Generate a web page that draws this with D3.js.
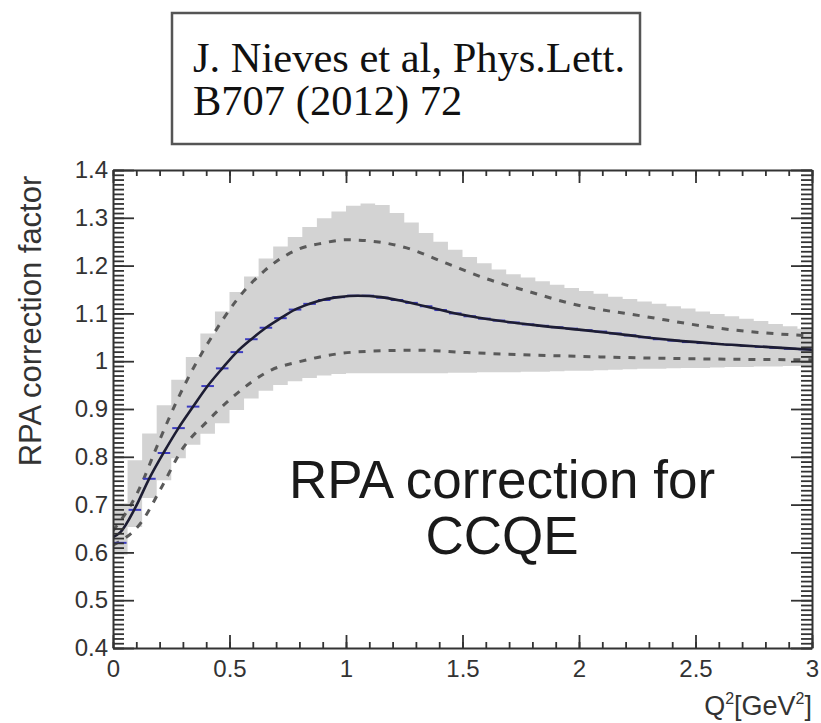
<!DOCTYPE html>
<html>
<head>
<meta charset="utf-8">
<script src="https://cdn.jsdelivr.net/npm/d3@7"></script>
<style>
  html, body { margin: 0; padding: 0; background: #fff; }
  svg { display: block; }
</style>
</head>
<body>
<div id="chart"></div>
<script>
// ---------------- data ----------------
const titleLines = ["J. Nieves et al, Phys.Lett.", "B707 (2012) 72"];
const noteLines = ["RPA correction for", "CCQE"];
const yTitle = "RPA correction factor";

const xDomain = [0, 3];
const yDomain = [0.4, 1.4];
const xTicks = [0, 0.5, 1, 1.5, 2, 2.5, 3];
const xTickLabels = ["0", "0.5", "1", "1.5", "2", "2.5", "3"];
const yTicks = [0.4, 0.5, 0.6, 0.7, 0.8, 0.9, 1.0, 1.1, 1.2, 1.3, 1.4];
const yTickLabels = ["0.4", "0.5", "0.6", "0.7", "0.8", "0.9", "1", "1.1", "1.2", "1.3", "1.4"];

const nBins = 48;
// grey uncertainty band (histogram, one value per bin)
const bandLower = [0.595, 0.653, 0.714, 0.751, 0.797, 0.825, 0.848, 0.87, 0.898, 0.922,
  0.938, 0.95, 0.958, 0.965, 0.97, 0.973, 0.975, 0.975, 0.975, 0.975,
  0.975, 0.975, 0.975, 0.976, 0.976, 0.977, 0.977, 0.977, 0.978, 0.978,
  0.979, 0.98, 0.98, 0.981, 0.982, 0.983, 0.984, 0.984, 0.985, 0.986,
  0.986, 0.987, 0.988, 0.988, 0.989, 0.989, 0.99, 0.99];
const bandUpper = [0.703, 0.793, 0.849, 0.908, 0.961, 1.009, 1.058, 1.104, 1.145, 1.177,
  1.215, 1.24, 1.26, 1.281, 1.299, 1.313, 1.325, 1.33, 1.327, 1.31,
  1.29, 1.268, 1.25, 1.233, 1.218, 1.205, 1.192, 1.182, 1.175, 1.167,
  1.16, 1.153, 1.147, 1.141, 1.135, 1.13, 1.125, 1.12, 1.115, 1.11,
  1.104, 1.099, 1.094, 1.089, 1.084, 1.078, 1.073, 1.068];
// blue central histogram (one value per bin)
const histCentral = [0.62, 0.689, 0.754, 0.808, 0.86, 0.905, 0.948, 0.985, 1.019, 1.046,
  1.07, 1.09, 1.108, 1.12, 1.128, 1.134, 1.137, 1.137, 1.133, 1.128,
  1.122, 1.115, 1.107, 1.10, 1.094, 1.089, 1.085, 1.081, 1.077, 1.074,
  1.071, 1.068, 1.065, 1.062, 1.058, 1.054, 1.05, 1.046, 1.043, 1.04,
  1.038, 1.036, 1.034, 1.032, 1.03, 1.028, 1.026, 1.025];

// solid central curve
const lineQ = [0, 0.031, 0.094, 0.156, 0.219, 0.281, 0.344, 0.406, 0.469, 0.531, 0.594, 0.656,
  0.719, 0.781, 0.844, 0.906, 0.969, 1.05, 1.15, 1.25, 1.4, 1.5, 1.65, 1.8, 2.0, 2.2, 2.4, 2.6, 2.8, 3.0];
const lineVal = [0.632, 0.642, 0.692, 0.755, 0.81, 0.86, 0.905, 0.948, 0.985, 1.019, 1.046, 1.07,
  1.09, 1.108, 1.12, 1.129, 1.134, 1.137, 1.134, 1.125, 1.108, 1.097, 1.085, 1.076, 1.066, 1.055, 1.044, 1.036, 1.03, 1.024];

// dashed upper curve
const upperQ = [0, 0.1, 0.2, 0.275, 0.35, 0.424, 0.531, 0.652, 0.8, 0.9, 1.0, 1.13, 1.26, 1.43, 1.6, 1.79, 1.97, 2.29, 2.6, 2.92, 3.0];
const upperVal = [0.645, 0.72, 0.835, 0.918, 0.99, 1.051, 1.128, 1.19, 1.235, 1.247, 1.254, 1.25, 1.237, 1.205, 1.173, 1.145, 1.12, 1.093, 1.069, 1.055, 1.053];

// dashed lower curve
const lowerQ = [0, 0.123, 0.209, 0.3, 0.4, 0.516, 0.681, 0.8, 0.99, 1.17, 1.3, 1.52, 1.8, 2.09, 2.5, 3.0];
const lowerVal = [0.615, 0.664, 0.737, 0.818, 0.872, 0.926, 0.982, 0.999, 1.017, 1.022, 1.023, 1.018, 1.013, 1.009, 1.005, 1.003];

// ---------------- layout ----------------
const W = 821, H = 723;
const plot = { left: 113, right: 812, top: 170, bottom: 648 };
const sans = "'Liberation Sans', Arial, Helvetica, sans-serif";
const serif = "'Liberation Serif', 'Times New Roman', Times, serif";
const axisColor = "#333";

const svg = d3.select("#chart").append("svg")
  .attr("width", W).attr("height", H)
  .attr("viewBox", `0 0 ${W} ${H}`);

const x = d3.scaleLinear().domain(xDomain).range([plot.left, plot.right]);
const y = d3.scaleLinear().domain(yDomain).range([plot.bottom, plot.top]);

svg.append("defs").append("clipPath").attr("id", "clip")
  .append("rect")
  .attr("x", plot.left).attr("y", plot.top)
  .attr("width", plot.right - plot.left).attr("height", plot.bottom - plot.top);

const g = svg.append("g").attr("clip-path", "url(#clip)");

// band
const binW = (xDomain[1] - xDomain[0]) / nBins;
const bandPts = [];
d3.range(nBins).forEach(i => {
  const lo = xDomain[0] + i * binW, hi = lo + binW;
  bandPts.push({ q: lo, l: bandLower[i], u: bandUpper[i] });
  bandPts.push({ q: hi, l: bandLower[i], u: bandUpper[i] });
});
g.append("path")
  .datum(bandPts)
  .attr("fill", "#d3d3d3")
  .attr("stroke", "none")
  .attr("d", d3.area().x(d => x(d.q)).y0(d => y(d.l)).y1(d => y(d.u)));

// dashed curves
const lineGen = d3.line().x(d => x(d[0])).y(d => y(d[1])).curve(d3.curveMonotoneX);
[[upperQ, upperVal], [lowerQ, lowerVal]].forEach(([qs, vs]) => {
  g.append("path")
    .datum(qs.map((q, i) => [q, vs[i]]))
    .attr("fill", "none")
    .attr("stroke", "#5a5a5a")
    .attr("stroke-width", 3)
    .attr("stroke-dasharray", "7,8")
    .attr("d", lineGen);
});

// blue histogram segments
g.append("g").selectAll("line")
  .data(histCentral)
  .join("line")
  .attr("x1", (d, i) => x(xDomain[0] + i * binW) + 1)
  .attr("x2", (d, i) => x(xDomain[0] + (i + 1) * binW) - 1)
  .attr("y1", d => y(d))
  .attr("y2", d => y(d))
  .attr("stroke", "#3c3cc0")
  .attr("stroke-width", 2);

// solid central line
g.append("path")
  .datum(lineQ.map((q, i) => [q, lineVal[i]]))
  .attr("fill", "none")
  .attr("stroke", "#1d1d33")
  .attr("stroke-width", 2.6)
  .attr("d", lineGen);

// ---------------- axes ----------------
const xMinor = d3.range(0, 3.0001, 0.1).map(v => +v.toFixed(2));
const yMinor = d3.range(0.4, 1.4001, 0.01).map(v => +v.toFixed(3));

function styleAxis(sel) {
  sel.selectAll("path.domain").attr("stroke", axisColor).attr("stroke-width", 2);
  sel.selectAll(".tick line").attr("stroke", axisColor).attr("stroke-width", 1.8);
  sel.selectAll(".tick text").attr("fill", "#333").attr("font-family", sans).attr("font-size", 24);
}

// bottom
svg.append("g").attr("transform", `translate(0,${plot.bottom})`)
  .call(d3.axisBottom(x).tickValues(xMinor).tickFormat("").tickSizeInner(-6).tickSizeOuter(0))
  .call(styleAxis);
svg.append("g").attr("transform", `translate(0,${plot.bottom})`)
  .call(d3.axisBottom(x).tickValues(xTicks).tickFormat((d, i) => xTickLabels[i])
    .tickSizeInner(-13).tickSizeOuter(0).tickPadding(12))
  .call(styleAxis)
  .call(s => s.select("path.domain").remove());
// top
svg.append("g").attr("transform", `translate(0,${plot.top})`)
  .call(d3.axisTop(x).tickValues(xMinor).tickFormat("").tickSizeInner(-6).tickSizeOuter(0))
  .call(styleAxis);
svg.append("g").attr("transform", `translate(0,${plot.top})`)
  .call(d3.axisTop(x).tickValues(xTicks).tickFormat("").tickSizeInner(-13).tickSizeOuter(0))
  .call(styleAxis)
  .call(s => s.select("path.domain").remove());
// left
svg.append("g").attr("transform", `translate(${plot.left},0)`)
  .call(d3.axisLeft(y).tickValues(yMinor).tickFormat("").tickSizeInner(-11).tickSizeOuter(0))
  .call(styleAxis);
svg.append("g").attr("transform", `translate(${plot.left},0)`)
  .call(d3.axisLeft(y).tickValues(yTicks).tickFormat((d, i) => yTickLabels[i])
    .tickSizeInner(-21).tickSizeOuter(0).tickPadding(5))
  .call(styleAxis)
  .call(s => s.select("path.domain").remove());
// right
svg.append("g").attr("transform", `translate(${plot.right},0)`)
  .call(d3.axisRight(y).tickValues(yMinor).tickFormat("").tickSizeInner(-11).tickSizeOuter(0))
  .call(styleAxis);
svg.append("g").attr("transform", `translate(${plot.right},0)`)
  .call(d3.axisRight(y).tickValues(yTicks).tickFormat("").tickSizeInner(-21).tickSizeOuter(0))
  .call(styleAxis)
  .call(s => s.select("path.domain").remove());

// axis titles
svg.append("text")
  .attr("transform", `translate(41,321) rotate(-90)`)
  .attr("text-anchor", "middle")
  .attr("font-family", sans).attr("font-size", 31).attr("fill", "#333")
  .text(yTitle);

const xt = svg.append("text")
  .attr("x", plot.right).attr("y", 715)
  .attr("text-anchor", "end")
  .attr("font-family", sans).attr("font-size", 27).attr("fill", "#333");
xt.append("tspan").text("Q");
xt.append("tspan").attr("font-size", 16).attr("dy", -11).text("2");
xt.append("tspan").attr("dy", 11).text("[GeV");
xt.append("tspan").attr("font-size", 16).attr("dy", -11).text("2");
xt.append("tspan").attr("dy", 11).text("]");

// annotation (two lines)
noteLines.forEach((t, i) => {
  svg.append("text")
    .attr("text-anchor", "middle")
    .attr("font-family", sans).attr("font-size", 53).attr("fill", "#1a1a1a")
    .attr("x", 502).attr("y", 498 + i * 56)
    .text(t);
});

// title box
svg.append("rect")
  .attr("x", 172).attr("y", 13).attr("width", 468).attr("height", 131)
  .attr("fill", "#fff").attr("stroke", "#555").attr("stroke-width", 2.5);
titleLines.forEach((t, i) => {
  svg.append("text")
    .attr("font-family", serif).attr("font-size", 42.5).attr("fill", "#111")
    .attr("x", 193).attr("y", 72 + i * 43)
    .text(t);
});
</script>
</body>
</html>
